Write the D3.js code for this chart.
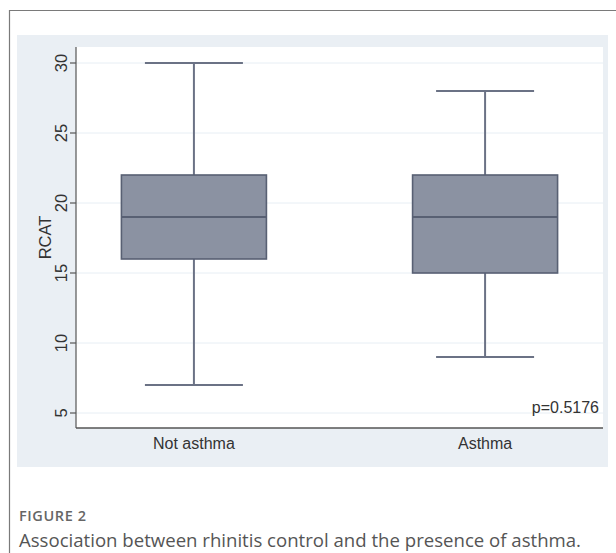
<!DOCTYPE html>
<html>
<head>
<meta charset="utf-8">
<script src="https://cdn.jsdelivr.net/npm/d3@7"></script>
<style>
  body { margin: 0; background: #fff; }
  svg { display: block; }
</style>
</head>
<body>
<script>
// box plot summary values
const categories = ["Not asthma", "Asthma"];
const lowerWhisker = [7, 9];
const q1 = [16, 15];
const median = [19, 19];
const q3 = [22, 22];
const upperWhisker = [30, 28];
const yTicks = [5, 10, 15, 20, 25, 30];
const pLabel = "p=0.5176";

const width = 616, height = 553;
const plotLeft = 76, plotRight = 603, plotTop = 47, plotBottom = 428;

const svg = d3.select('body')
    .append('svg')
    .attr('width', width)
    .attr('height', height);

// outer frame (only top and left edges fall inside the crop)
svg.append('path')
    .attr('d', `M9.5,${height} V10.5 H${width}`)
    .attr('fill', 'none')
    .attr('stroke', '#7a7a7a')
    .attr('stroke-width', 1.2);

// stata-like light panel
svg.append('rect')
    .attr('x', 17).attr('y', 35)
    .attr('width', 591).attr('height', 432)
    .attr('fill', '#eaeff4');

svg.append('rect')
    .attr('x', plotLeft).attr('y', plotTop)
    .attr('width', plotRight - plotLeft).attr('height', plotBottom - plotTop)
    .attr('fill', '#ffffff');

const x = d3.scalePoint()
    .domain(categories)
    .range([plotLeft, plotRight])
    .padding(0.405);

const y = d3.scaleLinear()
    .domain([5, 30])
    .range([413, 63]);

// faint gridlines
svg.append('g')
    .selectAll('line')
    .data(yTicks)
    .enter()
    .append('line')
    .attr('x1', plotLeft).attr('x2', plotRight)
    .attr('y1', d => y(d)).attr('y2', d => y(d))
    .attr('stroke', '#e7eef4')
    .attr('stroke-width', 1);

const boxW = 145, capW = 98;
const rows = categories.map((c, i) => ({
    c, lo: lowerWhisker[i], q1: q1[i], med: median[i], q3: q3[i], hi: upperWhisker[i]
}));

const g = svg.append('g').selectAll('g')
    .data(rows)
    .enter()
    .append('g');

const whiskerColor = '#6b7285';

g.append('line')
    .attr('x1', d => x(d.c)).attr('x2', d => x(d.c))
    .attr('y1', d => y(d.hi)).attr('y2', d => y(d.q3))
    .attr('stroke', whiskerColor).attr('stroke-width', 2);

g.append('line')
    .attr('x1', d => x(d.c)).attr('x2', d => x(d.c))
    .attr('y1', d => y(d.q1)).attr('y2', d => y(d.lo))
    .attr('stroke', whiskerColor).attr('stroke-width', 2);

g.append('line')
    .attr('x1', d => x(d.c) - capW / 2).attr('x2', d => x(d.c) + capW / 2)
    .attr('y1', d => y(d.hi)).attr('y2', d => y(d.hi))
    .attr('stroke', whiskerColor).attr('stroke-width', 2);

g.append('line')
    .attr('x1', d => x(d.c) - capW / 2).attr('x2', d => x(d.c) + capW / 2)
    .attr('y1', d => y(d.lo)).attr('y2', d => y(d.lo))
    .attr('stroke', whiskerColor).attr('stroke-width', 2);

g.append('rect')
    .attr('x', d => x(d.c) - boxW / 2)
    .attr('y', d => y(d.q3))
    .attr('width', boxW)
    .attr('height', d => y(d.q1) - y(d.q3))
    .attr('fill', '#8b92a2')
    .attr('stroke', '#586073')
    .attr('stroke-width', 1.6);

g.append('line')
    .attr('x1', d => x(d.c) - boxW / 2).attr('x2', d => x(d.c) + boxW / 2)
    .attr('y1', d => y(d.med)).attr('y2', d => y(d.med))
    .attr('stroke', '#586073').attr('stroke-width', 2);

// y axis: line, ticks and rotated labels
const font = '"Liberation Sans", Arial, sans-serif';
svg.append('line')
    .attr('x1', plotLeft).attr('x2', plotLeft)
    .attr('y1', plotTop).attr('y2', plotBottom)
    .attr('stroke', '#555').attr('stroke-width', 1.2);

svg.append('g').selectAll('line')
    .data(yTicks)
    .enter()
    .append('line')
    .attr('x1', plotLeft - 6).attr('x2', plotLeft)
    .attr('y1', d => y(d)).attr('y2', d => y(d))
    .attr('stroke', '#555').attr('stroke-width', 1.2);

svg.append('g').selectAll('text')
    .data(yTicks)
    .enter()
    .append('text')
    .attr('transform', d => `translate(67,${y(d)}) rotate(-90)`)
    .attr('text-anchor', 'middle')
    .attr('font-family', font)
    .attr('font-size', 16.5)
    .attr('fill', '#333')
    .text(d => d);

svg.append('text')
    .attr('transform', `translate(51,${(plotTop + plotBottom) / 2}) rotate(-90)`)
    .attr('text-anchor', 'middle')
    .attr('font-family', font)
    .attr('font-size', 16.5)
    .attr('fill', '#333')
    .text('RCAT');

// x axis
svg.append('line')
    .attr('x1', plotLeft).attr('x2', plotRight)
    .attr('y1', plotBottom).attr('y2', plotBottom)
    .attr('stroke', '#555').attr('stroke-width', 1.4);

svg.append('g').selectAll('text')
    .data(categories)
    .enter()
    .append('text')
    .attr('x', d => x(d))
    .attr('y', 449)
    .attr('text-anchor', 'middle')
    .attr('font-family', font)
    .attr('font-size', 16)
    .attr('fill', '#333')
    .text(d => d);

svg.append('text')
    .attr('x', 599)
    .attr('y', 413)
    .attr('text-anchor', 'end')
    .attr('font-family', font)
    .attr('font-size', 16)
    .attr('fill', '#333')
    .text(pLabel);

// caption
svg.append('text')
    .attr('x', 19).attr('y', 521)
    .attr('font-family', '"Open Sans", sans-serif')
    .attr('font-size', 14.5)
    .attr('font-weight', 600)
    .attr('letter-spacing', 0.6)
    .attr('fill', '#666')
    .text('FIGURE 2');

svg.append('text')
    .attr('x', 19).attr('y', 547)
    .attr('font-family', '"Open Sans", sans-serif')
    .attr('font-size', 18.6)
    .attr('fill', '#555')
    .text('Association between rhinitis control and the presence of asthma.');
</script>
</body>
</html>
